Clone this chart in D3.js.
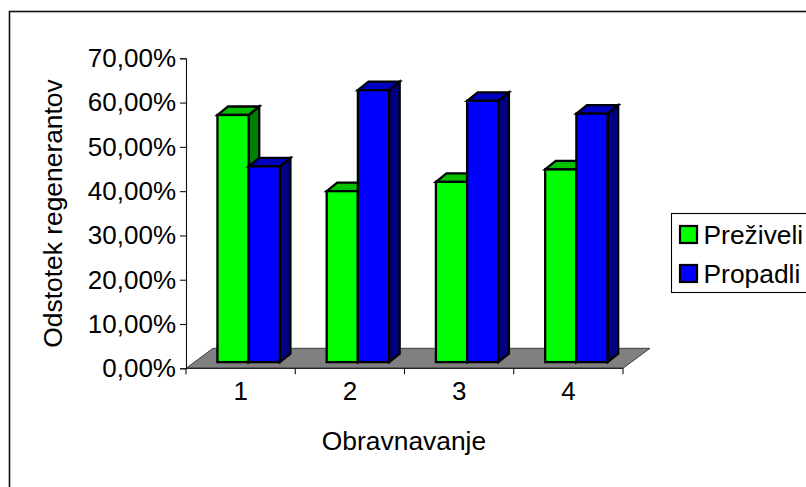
<!DOCTYPE html>
<html><head><meta charset="utf-8">
<script src="https://cdn.jsdelivr.net/npm/d3@7"></script>
<style>html,body{margin:0;padding:0;background:#fff;overflow:hidden}svg{display:block}text{font-family:"Liberation Sans",Arial,sans-serif;fill:#000}</style>
</head><body><svg id="c" width="806" height="487"></svg>
<script>
const categories = ["1","2","3","4"];
const seriesNames = ["Preživeli","Propadli"];
const preziveli = [55.8,38.6,40.7,43.5];
const propadli = [44.2,61.4,59.0,56.1];
const yTicks = [0,10,20,30,40,50,60,70];
const colors = {front:["#00ff00","#0000ff"],top:["#00c000","#0000c0"],side:["#008000","#000080"]};

const svg = d3.select("#c");
const fmt = v => v.toFixed(2).replace(".",",")+"%";
const y = d3.scaleLinear().domain([0,70]).range([368.3,58.3]);
const x = d3.scaleBand().domain(categories).range([186,623]);
const fs = 26, titleFs = 26.4;

svg.append("rect").attr("x",9.5).attr("y",11.5).attr("width",820).attr("height",500)
  .attr("fill","#fff").attr("stroke","#111").attr("stroke-width",1.6);

// floor
const floorD = [27,-20];
svg.append("path").attr("d",d3.line()([[x.range()[0],y(0)],[x.range()[1],y(0)],[x.range()[1]+floorD[0],y(0)+floorD[1]],[x.range()[0]+floorD[0],y(0)+floorD[1]]])+"Z")
  .attr("fill","#808080").attr("stroke","#222").attr("stroke-width",0.8);

// bars
const barW = 31.2, dx = 10.6, dy = -8.5, baseOff = 6.2, groupShift = 8;
const series = [preziveli, propadli];
categories.forEach((c,i)=>{
  const g0 = x(c)+x.bandwidth()/2+groupShift-barW;
  series.forEach((vals,s)=>{
    const x0 = g0+s*barW, x1 = x0+barW;
    const yb = y(0)-baseOff, yt = yb-(y(0)-y(vals[i]));
    const g = svg.append("g").attr("stroke","#000").attr("stroke-width",2.3).attr("stroke-linejoin","miter");
    g.append("path").attr("d",d3.line()([[x1,yb],[x1+dx,yb+dy],[x1+dx,yt+dy],[x1,yt]])+"Z").attr("fill",colors.side[s]);
    g.append("path").attr("d",d3.line()([[x0,yt],[x1,yt],[x1+dx,yt+dy],[x0+dx,yt+dy]])+"Z").attr("fill",colors.top[s]);
    g.append("rect").attr("x",x0).attr("y",yt).attr("width",barW).attr("height",yb-yt).attr("fill",colors.front[s]);
  });
});

// axes
const yAxis = d3.axisLeft(y).tickValues(yTicks).tickSize(6).tickPadding(4).tickFormat(fmt);
const ya = svg.append("g").attr("transform","translate(186,0)").call(yAxis);
const xAxis = d3.axisBottom(x).tickSize(0).tickPadding(13);
const xa = svg.append("g").attr("transform",`translate(0,${y(0)})`).call(xAxis);
[ya,xa].forEach(a=>{a.selectAll("text").attr("font-size",fs).style("font-family",'"Liberation Sans",Arial,sans-serif').attr("fill","#000");
  a.selectAll("path,line").attr("stroke","#111").attr("stroke-width",1.1);});
xa.select(".domain").attr("d",`M186,0H623`);
d3.range(5).forEach(i=>{
  const xp = 186+i*x.bandwidth();
  xa.append("line").attr("x1",xp).attr("x2",xp).attr("y1",0).attr("y2",6).attr("stroke","#111").attr("stroke-width",1.1);
});

svg.append("text").attr("x",404).attr("y",450).attr("text-anchor","middle").attr("font-size",titleFs).text("Obravnavanje");
svg.append("text").attr("transform","translate(62,213.5) rotate(-90)").attr("text-anchor","middle").attr("font-size",titleFs).text("Odstotek regenerantov");

// legend
svg.append("rect").attr("x",671.5).attr("y",213.5).attr("width",150).attr("height",79).attr("fill","#fff").attr("stroke","#000").attr("stroke-width",1.1);
seriesNames.forEach((n,s)=>{
  const yy = 244+s*39;
  svg.append("rect").attr("x",680).attr("y",yy-18).attr("width",17).attr("height",17).attr("fill",colors.front[s]).attr("stroke","#000").attr("stroke-width",2.2);
  svg.append("text").attr("x",703.5).attr("y",yy).attr("font-size",titleFs).text(n);
});
</script></body></html>
